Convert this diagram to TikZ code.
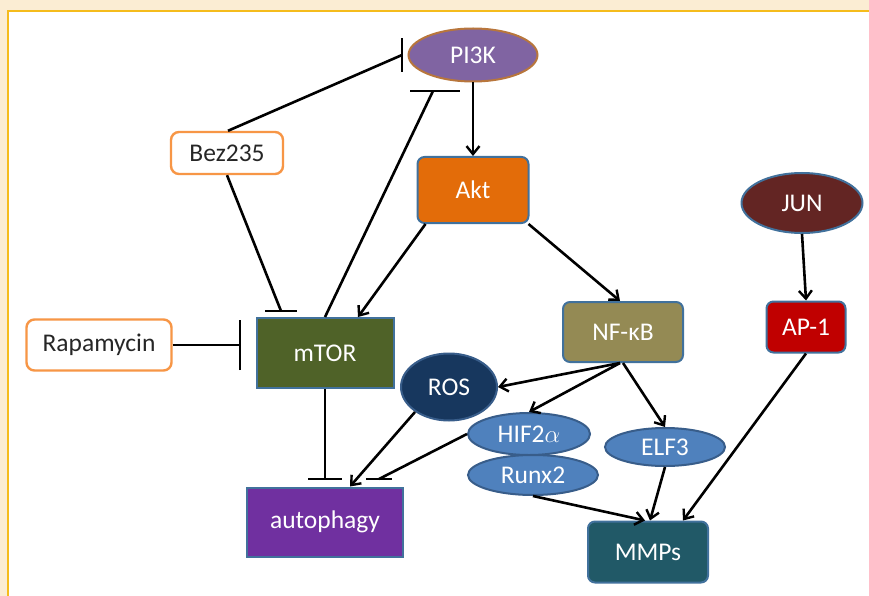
\documentclass[tikz,border=0pt]{standalone}
\usepackage{fontspec}
\setmainfont{Carlito}
\usetikzlibrary{arrows.meta,shapes.geometric}
\definecolor{cream}{HTML}{FBEDD3}
\definecolor{gold}{HTML}{F5BC1C}
\definecolor{edgeblue}{HTML}{41719C}
\definecolor{drugorange}{HTML}{F79646}
\definecolor{piborder}{HTML}{B8763C}
\definecolor{pifill}{HTML}{8064A2}
\definecolor{aktfill}{HTML}{E36C09}
\definecolor{mtorfill}{HTML}{4F6228}
\definecolor{nffill}{HTML}{948A54}
\definecolor{rosfill}{HTML}{17375E}
\definecolor{tffill}{HTML}{4F81BD}
\definecolor{tfborder}{HTML}{385D8A}
\definecolor{mmpfill}{HTML}{215967}
\definecolor{autofill}{HTML}{7030A0}
\definecolor{junfill}{HTML}{632523}
\definecolor{apfill}{HTML}{C00000}
\tikzset{
  lbl/.style={font=\fontsize{25.5}{29}\selectfont, inner sep=0pt},
  box/.style={lbl, rectangle, draw=edgeblue, line width=2pt, text=white},
  rbox/.style={box, rounded corners=7pt},
  ell/.style={lbl, ellipse, draw=edgeblue, line width=2pt, text=white},
  tfell/.style={ell, fill=tffill, draw=tfborder},
  drug/.style={lbl, rectangle, rounded corners=8pt, draw=drugorange, fill=white, text=black!85, line width=2.4pt},
  arr/.style={line width=2.6pt, -{Straight Barb[length=8pt,width=13pt,line width=2.4pt]}},
  inh/.style={line width=2.6pt},
  tbar/.style={line width=2.8pt}
}
\begin{document}
\begin{tikzpicture}[x=1pt,y=-1pt]
\useasboundingbox (0,0) rectangle (869,596);
\fill[cream] (0,0) rectangle (869,596);
\fill[white] (8,11.5) rectangle (869,596);
\draw[gold, line width=2pt] (8,596) -- (8,11.5) -- (869,11.5);

% nodes
\node[ell, fill=pifill, draw=piborder, minimum width=129pt, minimum height=53pt] (PI3K) at (473,55) {PI3K};
\node[rbox, fill=aktfill, minimum width=111pt, minimum height=66pt] (Akt) at (473,190) {Akt};
\node[drug, minimum width=112pt, minimum height=42pt] (Bez) at (227,153) {Bez235};
\node[drug, minimum width=145pt, minimum height=51pt] (Rapa) at (99,345) {Rapamycin};
\node[box, fill=mtorfill, minimum width=137pt, minimum height=70pt] (mTOR) at (325,353) {mTOR};
\node[rbox, fill=nffill, minimum width=120pt, minimum height=60pt] (NFkB) at (623,332) {NF-κB};
\node[ell, fill=rosfill, draw=tfborder, minimum width=96pt, minimum height=67pt] (ROS) at (449,387) {ROS};
\node[tfell, minimum width=122pt, minimum height=42pt] (HIF) at (529,434) {HIF2$\alpha$};
\node[tfell, minimum width=130pt, minimum height=40pt] (Runx) at (533,475) {Runx2};
\node[tfell, minimum width=120pt, minimum height=38pt] (ELF) at (665,447) {ELF3};
\node[rbox, fill=mmpfill, minimum width=120pt, minimum height=61pt] (MMPs) at (648,552) {MMPs};
\node[box, fill=autofill, minimum width=156pt, minimum height=69pt] (Auto) at (325,522) {autophagy};
\node[ell, fill=junfill, minimum width=121pt, minimum height=60pt] (JUN) at (802,203) {JUN};
\node[rbox, fill=apfill, minimum width=79pt, minimum height=51pt] (AP) at (806,327) {AP-1};

% bar coordinates
\coordinate (bPI) at (402,55);
\coordinate (bPI2) at (435,91);
\coordinate (bMT) at (281,311);
\coordinate (bRa) at (240,345);
\coordinate (bAu1) at (325,479);
\coordinate (bAu2) at (379,479);

% inhibition lines
\draw[inh] ([xshift=1pt]Bez.north) -- (bPI);
\draw[tbar] ([yshift=-17pt]bPI) -- ([yshift=17pt]bPI);
\draw[inh] (mTOR.north) -- ([xshift=-2pt]bPI2);
\draw[tbar] ([xshift=-25pt]bPI2) -- ([xshift=25pt]bPI2);
\draw[inh] (Bez.south) -- (bMT);
\draw[tbar] ([xshift=-16pt]bMT) -- ([xshift=16pt]bMT);
\draw[inh] (Rapa.east) -- (bRa);
\draw[tbar] ([yshift=-25pt]bRa) -- ([yshift=25pt]bRa);
\draw[inh] (mTOR.south) -- (bAu1);
\draw[tbar] ([xshift=-17pt]bAu1) -- ([xshift=17pt]bAu1);
\draw[inh] (HIF.west) -- (bAu2);
\draw[tbar] ([xshift=-13pt]bAu2) -- ([xshift=13pt]bAu2);

% activation arrows
\draw[arr] (PI3K) -- (Akt);
\draw[arr] ([xshift=9pt]Akt.south west) -- ([xshift=33pt]mTOR.north);
\draw[arr] ([xshift=-1pt]Akt.south east) -- ([xshift=-3pt]NFkB.north);
\draw[arr] ([xshift=-3pt]NFkB.south) -- (ROS.east);
\draw[arr] ([xshift=-3pt]NFkB.south) -- (HIF.north);
\draw[arr] (NFkB.south) -- (ELF.north);
\draw[arr] ([shift={(-34,25)}]ROS.center) -- ([xshift=25pt]Auto.north);
\draw[arr] (JUN.south) -- (AP.north);
\draw[arr] (AP.south) -- ([xshift=35pt]MMPs.north);
\draw[arr] (ELF.south) -- ([xshift=2pt]MMPs.north);
\draw[arr] (Runx.south) -- ([xshift=-3pt]MMPs.north);
\end{tikzpicture}
\end{document}
